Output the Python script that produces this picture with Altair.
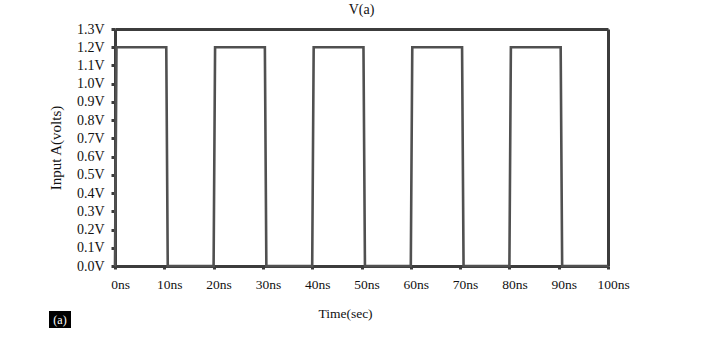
import altair as alt
import pandas as pd

# Waveform corner points (ns, volts)
time_ns = [0.0, 0.3, 10.4, 10.7, 20.0, 20.3, 30.4, 30.7, 40.0, 40.3,
           50.4, 50.7, 60.0, 60.3, 70.4, 70.7, 80.0, 80.3, 90.4, 90.7, 100.0]
volts = [0.0, 1.2, 1.2, 0.0, 0.0, 1.2, 1.2, 0.0, 0.0, 1.2,
         1.2, 0.0, 0.0, 1.2, 1.2, 0.0, 0.0, 1.2, 1.2, 0.0, 0.0]

x_ticks = [0, 10, 20, 30, 40, 50, 60, 70, 80, 90, 100]
y_ticks = [0.0, 0.1, 0.2, 0.3, 0.4, 0.5, 0.6, 0.7, 0.8, 0.9, 1.0, 1.1, 1.2, 1.3]

df = pd.DataFrame({"t": time_ns, "v": volts})

FONT = "Liberation Serif"
INK = "#3c3c3c"

xscale = alt.Scale(domain=[0, 100], nice=False, zero=False)
yscale = alt.Scale(domain=[0, 1.3], nice=False, zero=True)

line = alt.Chart(df).mark_line(color="#505050", strokeWidth=2.6, interpolate="linear").encode(
    x=alt.X("t:Q", scale=xscale,
            axis=alt.Axis(values=x_ticks, labelExpr="datum.value + 'ns'",
                          title="Time(sec)", titleFont=FONT, titleFontSize=13.5,
                          titleFontWeight="normal", titleColor="#111",
                          titlePadding=16, titleX=230,
                          labelFont=FONT, labelFontSize=13.5, labelColor="#111",
                          labelPadding=8, labelOffset=5, labelFlush=False,
                          tickSize=3, tickWidth=3, tickColor=INK,
                          domainColor=INK, domainWidth=3, grid=False)),
    y=alt.Y("v:Q", scale=yscale,
            axis=alt.Axis(values=y_ticks,
                          labelExpr="format(datum.value, '.1f') + 'V'",
                          title="Input A(volts)", titleFont=FONT, titleFontSize=15,
                          titleFontWeight="normal", titleColor="#111",
                          titlePadding=13,
                          labelFont=FONT, labelFontSize=14, labelColor="#111",
                          labelPadding=7, labelFlush=False,
                          tickSize=4, tickWidth=3, tickColor=INK,
                          domainColor=INK, domainWidth=3, grid=False)),
)

# invisible copy that only carries the frame on top and right
frame = alt.Chart(df).mark_line(opacity=0).encode(
    x=alt.X("t:Q", scale=xscale,
            axis=alt.Axis(orient="top", labels=False, ticks=False, title=None,
                          domainColor=INK, domainWidth=3, grid=False)),
    y=alt.Y("v:Q", scale=yscale,
            axis=alt.Axis(orient="right", labels=False, ticks=False, title=None,
                          domainColor=INK, domainWidth=3, grid=False)),
)

tag = pd.DataFrame({"label": ["(a)"]})
box = alt.Chart(tag).mark_rect(color="black").encode(
    x=alt.value(-66), x2=alt.value(-44), y=alt.value(282), y2=alt.value(299)
)
box_text = alt.Chart(tag).mark_text(color="white", font=FONT, fontSize=12,
                                    align="center", baseline="middle").encode(
    x=alt.value(-55), y=alt.value(290.5), text="label:N"
)

chart = alt.layer(line, frame, box, box_text).resolve_axis(
    x="independent", y="independent"
).properties(
    width=493, height=237,
    title=alt.TitleParams("V(a)", font=FONT, fontSize=14, fontWeight="normal",
                          color="#111", offset=5),
    autosize=alt.AutoSizeParams(type="none"),
    padding={"left": 115, "top": 29, "right": 99, "bottom": 87},
).configure_view(stroke=None).configure(background="white")

chart.save("out.html", embed_options={"renderer": "svg", "actions": False})
